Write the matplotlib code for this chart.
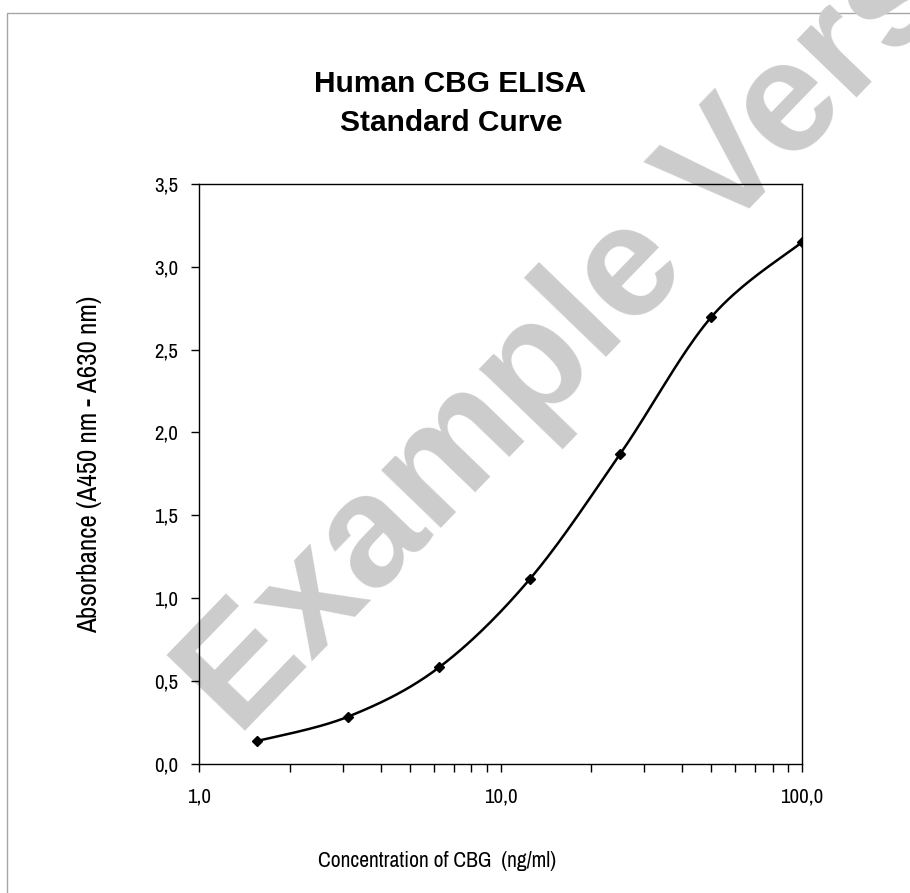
import numpy as np
import matplotlib
matplotlib.use('Agg')
from matplotlib import pyplot as plt
from matplotlib.patches import Rectangle
from matplotlib.ticker import FixedLocator, LogLocator, NullFormatter

# standard curve: concentration (ng/ml) vs absorbance
conc = [1.5625, 3.125, 6.25, 12.5, 25, 50, 100]
absorb = [0.136, 0.283, 0.580, 1.113, 1.872, 2.696, 3.149]
y_ticks = [0.0, 0.5, 1.0, 1.5, 2.0, 2.5, 3.0, 3.5]
x_ticks = [1, 10, 100]

NARROW = ['Archivo Narrow', 'DejaVu Sans']
ARIAL = ['Liberation Sans', 'DejaVu Sans']


def smooth(xs, ys, n=40):
    # Catmull-Rom through the points, in log-x space (like Excel smoothed lines)
    lx = np.log10(xs)
    ys = np.asarray(ys, dtype=float)
    px = np.concatenate([[lx[0]], lx, [lx[-1]]])
    py = np.concatenate([[ys[0]], ys, [ys[-1]]])
    out_x, out_y = [], []
    t = np.linspace(0, 1, n)
    for i in range(1, len(px) - 2):
        p0, p1, p2, p3 = px[i-1:i+3]
        q0, q1, q2, q3 = py[i-1:i+3]
        h00 = 2*t**3 - 3*t**2 + 1
        h10 = t**3 - 2*t**2 + t
        h01 = -2*t**3 + 3*t**2
        h11 = t**3 - t**2
        mx1, mx2 = (p2 - p0) / 2, (p3 - p1) / 2
        my1, my2 = (q2 - q0) / 2, (q3 - q1) / 2
        out_x.append(h00*p1 + h10*mx1 + h01*p2 + h11*mx2)
        out_y.append(h00*q1 + h10*my1 + h01*q2 + h11*my2)
    return 10**np.concatenate(out_x), np.concatenate(out_y)


fig = plt.figure(figsize=(9.10, 8.93), dpi=100)
fig.patch.set_facecolor('white')

# outer chart border (only top and left visible)
fig.patches.append(Rectangle((7/910, -0.5), 2, 1.5 - 13/893, transform=fig.transFigure,
                             fill=False, edgecolor='#a6a6a6', lw=1.0, zorder=-5))

ax = fig.add_axes([199/910, 1 - 763.5/893, 603/910, 579.5/893])
ax.patch.set_alpha(0)

sx, sy = smooth(conc, absorb)
ax.plot(sx, sy, color='black', lw=1.8, solid_capstyle='round', zorder=3)
ax.plot(conc, absorb, linestyle='none', marker='D', markersize=5.5, color='black', zorder=4)

ax.set_xscale('log')
ax.set_xlim(1, 100)
ax.set_ylim(0, 3.5)
ax.xaxis.set_major_locator(FixedLocator(x_ticks))
ax.xaxis.set_minor_locator(LogLocator(base=10, subs=np.arange(2, 10)))
ax.xaxis.set_minor_formatter(NullFormatter())
ax.set_xticks(x_ticks, [f'{v:.1f}'.replace('.', ',') for v in x_ticks])
ax.set_yticks(y_ticks, [f'{v:.1f}'.replace('.', ',') for v in y_ticks])

for s in ax.spines.values():
    s.set_linewidth(1.0)
    s.set_color('black')
ax.tick_params(which='both', direction='out', length=6, width=1.0, color='black')
ax.tick_params(axis='x', pad=11)
ax.tick_params(axis='y', pad=9)
for lab in ax.get_xticklabels() + ax.get_yticklabels():
    lab.set_family(NARROW)
    lab.set_fontsize(15)

fig.text(450/910, 1 - 92/893, 'Human CBG ELISA', ha='center', va='baseline',
         family=ARIAL, fontsize=21.5, fontweight='bold')
fig.text(451/910, 1 - 131/893, 'Standard Curve', ha='center', va='baseline',
         family=ARIAL, fontsize=21.5, fontweight='bold')
fig.text(437/910, 1 - 867/893, 'Concentration of CBG  (ng/ml)', ha='center', va='baseline',
         family=NARROW, fontsize=15.5)
fig.text(90/910, 1 - 464/893, 'Absorbance (A450 nm - A630 nm)', ha='center', va='center',
         rotation=90, family=NARROW, fontsize=19.5)

# watermark
fig.text(238/910, 1 - 738/893, 'Example Version', ha='left', va='baseline',
         rotation=46, rotation_mode='anchor', family=ARIAL,
         fontweight='bold', fontsize=114, color='#cccccc', zorder=-1)

fig.savefig('out.png', dpi=100, facecolor='white')
